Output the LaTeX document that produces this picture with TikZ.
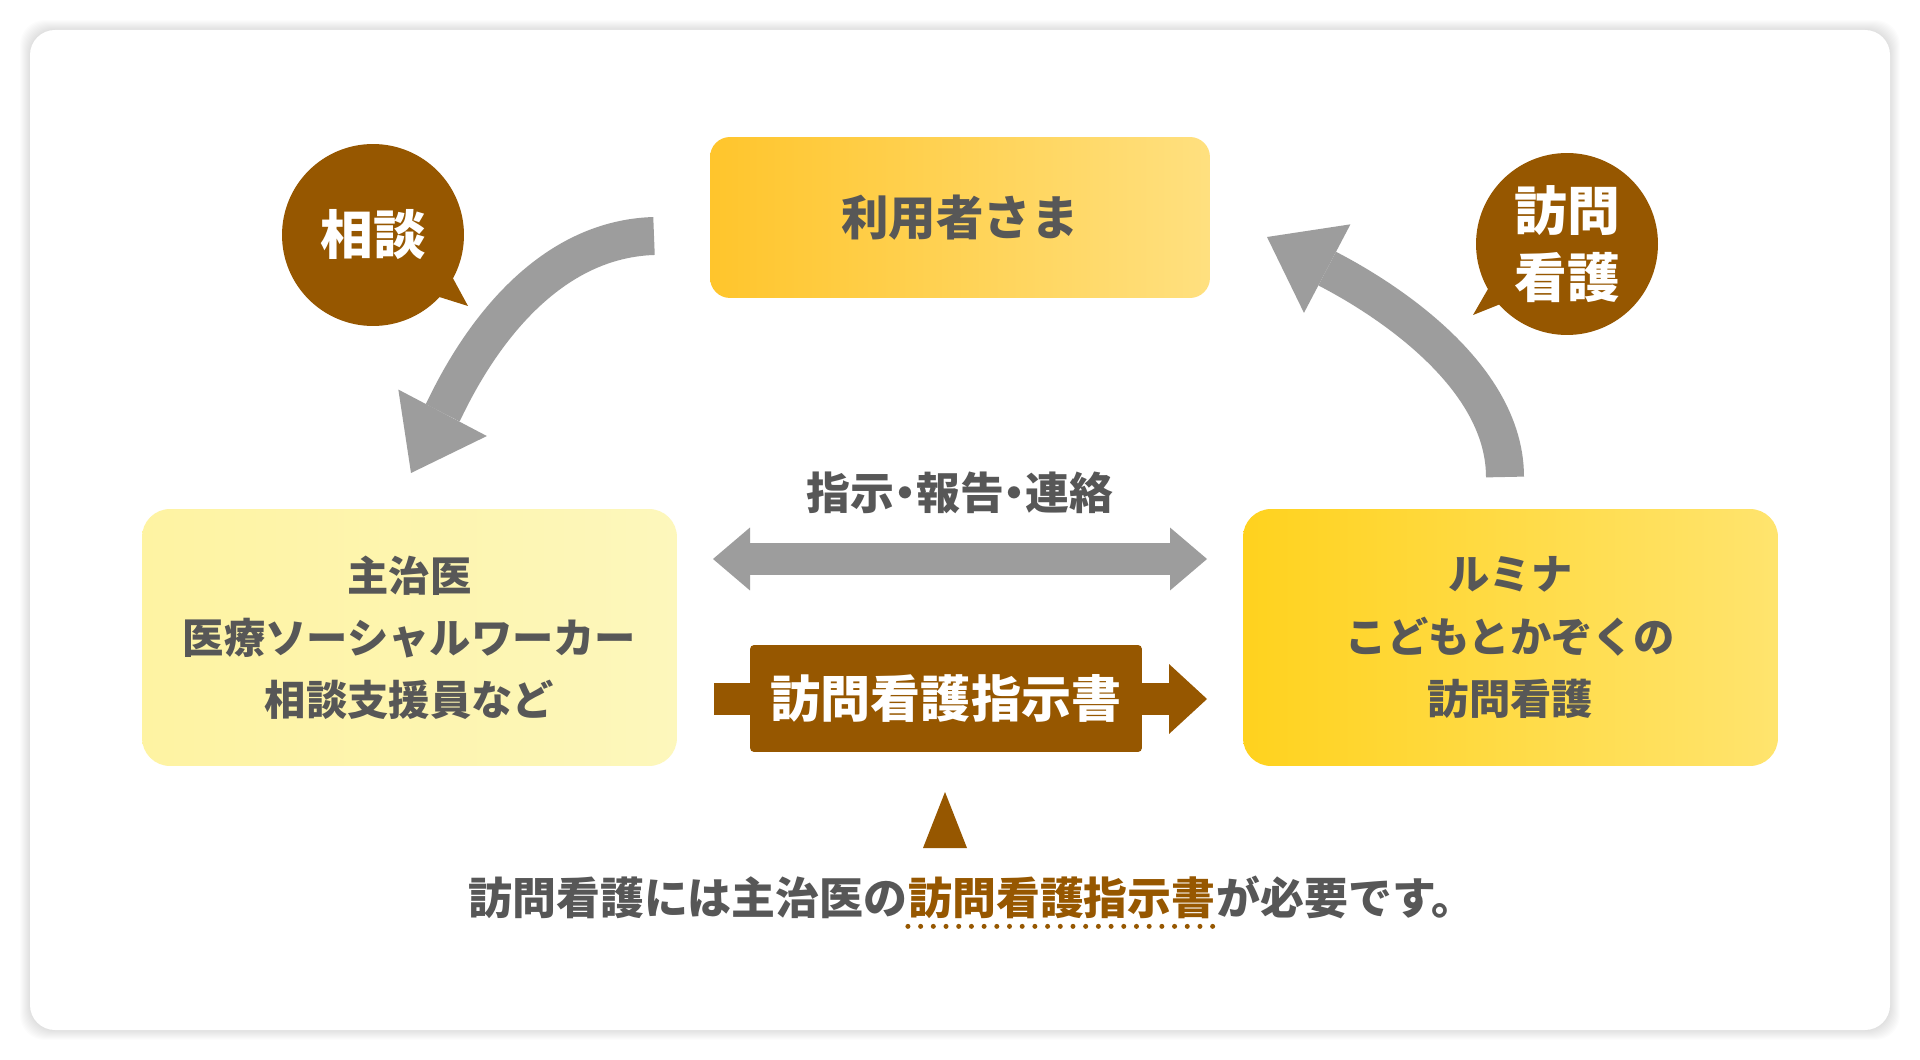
\documentclass[tikz,border=0pt]{standalone}
\usepackage{fontspec}
\setmainfont{Noto Sans CJK JP}
\usepackage{xcolor}
\definecolor{InkGray}{HTML}{575757}
\definecolor{ArrowGray}{HTML}{9D9D9D}
\definecolor{Umber}{HTML}{965700}
\definecolor{HoneyA}{HTML}{FFC52C}
\definecolor{HoneyB}{HTML}{FFE07F}
\definecolor{CreamA}{HTML}{FEF3A2}
\definecolor{CreamB}{HTML}{FDF7BC}
\definecolor{LemonA}{HTML}{FFD21E}
\definecolor{LemonB}{HTML}{FFE46E}
\usepackage{tikz}
\usetikzlibrary{calc, arrows.meta, positioning, shapes.geometric}
\newcommand{\middot}{\kern-0.25em・\kern-0.25em}

\begin{document}
\begin{tikzpicture}[x=0.02cm,y=-0.02cm,
  txt/.style={text=InkGray,font=\bfseries\fontsize{23.5}{35.3}\selectfont,align=center},
  panel/.style={rounded corners=0.56cm,minimum width=10.7cm,minimum height=5.14cm},
  bubble/.style={circle,fill=Umber,minimum size=3.64cm,inner sep=0pt,text=white,align=center,font=\bfseries\fontsize{30}{38}\selectfont},
  fatarrow/.style={ArrowGray,line width=0.76cm,-{Triangle[length=1.36cm,width=2cm,line width=0pt]}},
  note/.style={font=\bfseries\fontsize{25}{30}\selectfont,inner sep=0pt}]
  \useasboundingbox (0,0) rectangle (1920,1060);
  \fill[white] (0,0) rectangle (1920,1060);
  \foreach \s in {1,...,10}
    \fill[black,opacity=0.012,rounded corners=0.5cm] (30-\s,30-\s) rectangle (1890+\s,1030+\s);
  \fill[white,rounded corners=0.5cm] (30,30) rectangle (1890,1030);

  \node[txt,panel,minimum width=10cm,minimum height=3.22cm,rounded corners=0.4cm,left color=HoneyA,right color=HoneyB,font=\bfseries\fontsize{27}{32}\selectfont] (user) at (960,217.5) {利用者さま};
  \node[txt,panel,left color=CreamA,right color=CreamB] (doctor) at (409.5,637.5) {主治医\\医療ソーシャルワーカー\\相談支援員など};
  \node[txt,panel,left color=LemonA,right color=LemonB] (lumina) at (1510.5,637.5) {ルミナ\\こどもとかぞくの\\訪問看護};

  \coordinate (askS) at (654,236);
  \coordinate (askE) at (411,473);
  \draw[fatarrow] (askS) .. controls (520,240) and (453,393) .. (askE);
  \coordinate (visitS) at (1505,477);
  \coordinate (visitE) at (1267,237);
  \draw[fatarrow] (visitS) .. controls (1505,360) and (1347,279) .. (visitE);

  \node[bubble] (soudan) at (373,235) {相談};
  \fill[Umber] (449,271) -- (468,306) -- (433,295) -- cycle;
  \node[bubble] (houmon) at (1567,244) {訪問\\看護};
  \fill[Umber] (1492,282) -- (1473,315) -- (1508,301) -- cycle;

  \coordinate (talkL) at (713,559);
  \coordinate (talkR) at (1207,559);
  \draw[ArrowGray,line width=0.64cm,{Triangle[length=0.74cm,width=1.26cm,line width=0pt]}-{Triangle[length=0.74cm,width=1.26cm,line width=0pt]}] (talkL) -- (talkR);
  \node[txt,font=\bfseries\fontsize{25}{28}\selectfont] (talk) at (960,493) {指示\middot 報告\middot 連絡};

  \coordinate (orderL) at (714,699);
  \coordinate (orderR) at (1207,699);
  \draw[Umber,line width=0.64cm,-{Triangle[length=0.76cm,width=1.4cm,line width=0pt]}] (orderL) -- (orderR);
  \node[fill=Umber,rounded corners=0.08cm,minimum width=7.84cm,minimum height=2.14cm,text=white,font=\bfseries\fontsize{28.5}{32}\selectfont] (order) at (946,698.5) {訪問看護指示書};

  \fill[Umber] (923,848) -- (945,792) -- (967,848) -- cycle;
  \node[note,text=Umber] (noteKey) at (1062,898) {訪問看護指示書};
  \node[note,text=InkGray,anchor=base east] (noteL) at (noteKey.base west) {訪問看護には主治医の};
  \node[note,text=InkGray,anchor=base west] (noteR) at (noteKey.base east) {が必要です。};
  \draw[Umber,line width=0.1cm,line cap=round,dash pattern=on 0pt off 0.254cm] ([yshift=-0.14cm]noteKey.south west) -- ([yshift=-0.14cm]noteKey.south east);
\end{tikzpicture}
\end{document}
